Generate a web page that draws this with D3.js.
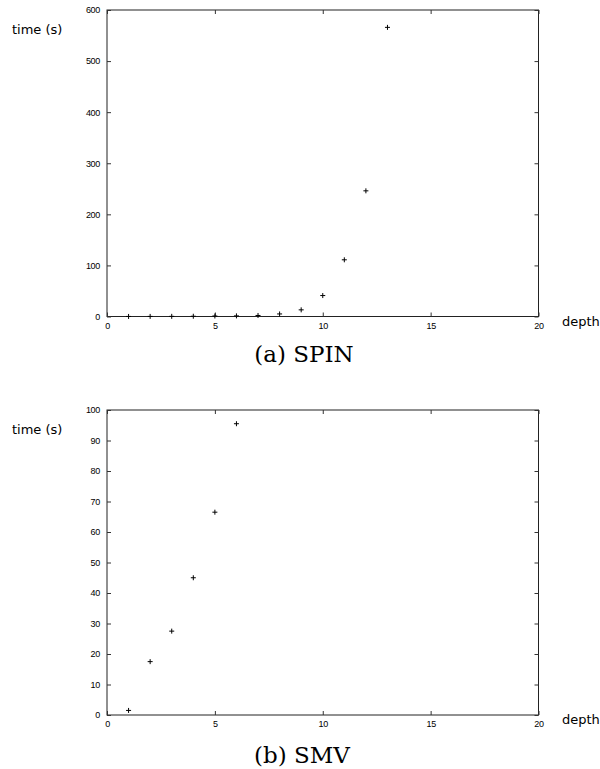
<!DOCTYPE html>
<head>
  <meta charset='utf-8'>
  <script src='https://d3js.org/d3.v7.min.js'></script>
  <style>
    body { margin: 0; background: #fff; }
    .tick text { font-family: 'Liberation Sans', sans-serif; font-size: 9px; fill: #000; letter-spacing: -0.3px; }
    .lab { font-family: 'DejaVu Sans', sans-serif; font-size: 13px; }
    .cap { font-family: 'DejaVu Serif', serif; font-size: 23px; }
  </style>
</head>
<body>
<script>
// depth values
const spinDepth = [1, 2, 3, 4, 5, 6, 7, 8, 9, 10, 11, 12, 13];
const spinTime = [0.1, 0.2, 0.3, 0.5, 1, 1.2, 2, 5, 13, 41, 111, 246, 566];
const smvDepth = [1, 2, 3, 4, 5, 6];
const smvTime = [1.5, 17.5, 27.5, 45, 66.5, 95.5];
const xTicks = [0, 5, 10, 15, 20];
const spinYTicks = [0, 100, 200, 300, 400, 500, 600];
const smvYTicks = [0, 10, 20, 30, 40, 50, 60, 70, 80, 90, 100];

const width = 600, height = 769;
const svg = d3.select('body').append('svg').attr('width', width).attr('height', height);

const panels = [
  {depth: spinDepth, time: spinTime, yTicks: spinYTicks, yMax: 600, top: 10, bottom: 316.5, cap: '(a) SPIN', capX: 304, capY: 362},
  {depth: smvDepth, time: smvTime, yTicks: smvYTicks, yMax: 100, top: 410, bottom: 715, cap: '(b) SMV', capX: 302, capY: 763}
];

const left = 107, right = 538.5;

panels.forEach(p => {
  const x = d3.scaleLinear().domain([0, 20]).range([left, right]);
  const y = d3.scaleLinear().domain([0, p.yMax]).range([p.bottom, p.top]);
  const g = svg.append('g');

  // frame
  g.append('rect')
    .attr('x', left).attr('y', p.top)
    .attr('width', right - left).attr('height', p.bottom - p.top)
    .attr('fill', 'none').attr('stroke', '#222').attr('stroke-width', 1);

  const ax = (sel) => { sel.select('.domain').remove(); sel.selectAll('line').attr('stroke', '#333'); };

  g.append('g').attr('transform', `translate(0,${p.bottom})`)
    .call(d3.axisBottom(x).tickValues(xTicks).tickSizeInner(-4).tickSizeOuter(0).tickPadding(6))
    .call(ax);
  g.append('g').attr('transform', `translate(0,${p.top})`)
    .call(d3.axisTop(x).tickValues(xTicks).tickSizeInner(-4).tickSizeOuter(0).tickFormat(''))
    .call(ax);
  g.append('g').attr('transform', `translate(${left},0)`)
    .call(d3.axisLeft(y).tickValues(p.yTicks).tickSizeInner(-4).tickSizeOuter(0).tickPadding(7))
    .call(ax);
  g.append('g').attr('transform', `translate(${right},0)`)
    .call(d3.axisRight(y).tickValues(p.yTicks).tickSizeInner(-4).tickSizeOuter(0).tickFormat(''))
    .call(ax);

  // points, drawn as small plus signs
  g.append('g').selectAll('path')
    .data(p.depth.map((d, i) => [d, p.time[i]]))
    .enter().append('path')
    .attr('d', 'M-2.5,0H2.5M0,-2.5V2.5')
    .attr('transform', d => `translate(${x(d[0])},${y(d[1])})`)
    .attr('fill', 'none')
    .attr('stroke', '#000').attr('stroke-width', 1);

  g.append('text').attr('class', 'lab')
    .attr('x', 12).attr('y', p.top + 24).text('time (s)');
  g.append('text').attr('class', 'lab')
    .attr('x', 562).attr('y', p.bottom + 9).text('depth');
  g.append('text').attr('class', 'cap')
    .attr('x', p.capX).attr('y', p.capY).attr('text-anchor', 'middle').text(p.cap);
});
</script>
</body>
